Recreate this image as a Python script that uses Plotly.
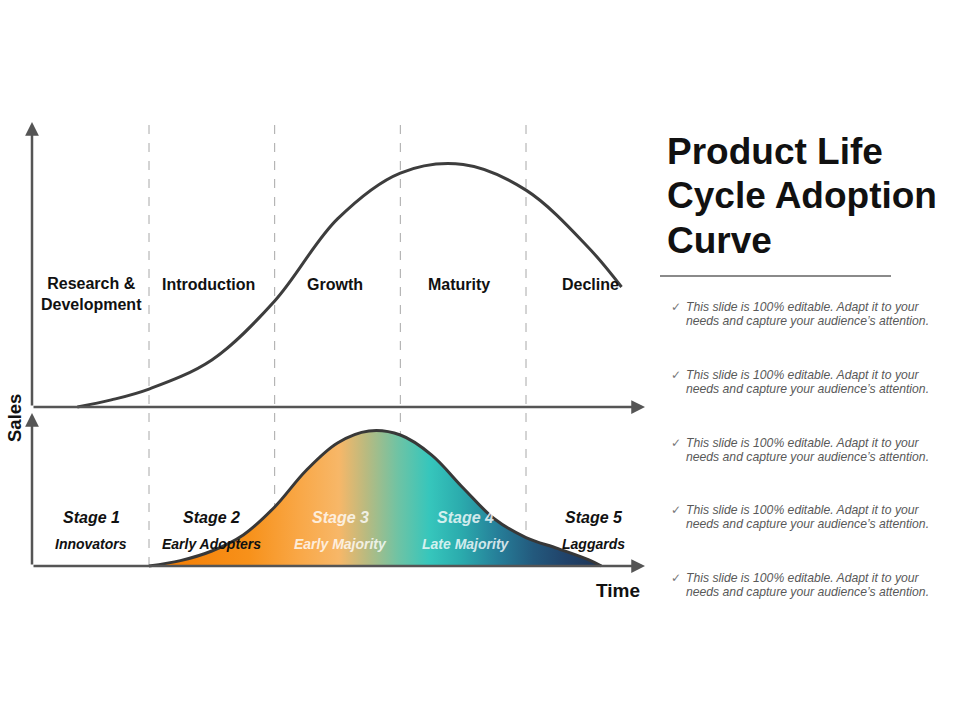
import plotly.graph_objects as go

# ---------------- data ----------------
phases = ["Research &<br>Development", "Introduction", "Growth", "Maturity", "Decline"]
phase_label_t = [0.54, 1.47, 2.48, 3.47, 4.51]

stage_names = ["Stage 1", "Stage 2", "Stage 3", "Stage 4", "Stage 5"]
adopter_groups = ["Innovators", "Early Adopters", "Early Majority", "Late Majority", "Laggards"]
stage_label_t = [0.54, 1.50, 2.52, 3.52, 4.54]
stage_boundaries = [1, 2, 3, 4]

# product life cycle (sales vs time)
sales_t = [0.43, 0.70, 1.00, 1.50, 2.00, 2.50, 3.00, 3.50, 4.00, 4.50, 4.76]
sales_v = [0.0, 2.5, 6.3, 16.5, 37.2, 66.0, 82.1, 85.1, 76.1, 55.8, 42.1]

# adoption bell curve
adopt_t = [1.00, 1.25, 1.50, 1.75, 2.00, 2.25, 2.50, 2.75, 3.00, 3.25, 3.50, 3.75,
           4.00, 4.25, 4.50, 4.60]
adopt_v = [0.0, 3.5, 9.8, 20.3, 38.6, 62.4, 80.4, 88.2, 85.6, 72.5, 51.0, 30.7,
           18.6, 11.5, 4.0, 0.0]

title_lines = ["Product Life", "Cycle Adoption", "Curve"]
bullet_text = ("This slide is 100% editable. Adapt it to your",
               "needs and capture your audience\u2019s attention.")
bullets = [bullet_text] * 5

# ---------------- layout calibration ----------------
W, H = 960, 720
PX0, PXK = 23.33, 125.67           # pixel = PX0 + PXK * t
T_AXIS0, T_AXIS1 = 0.069, 4.947    # axis extents in time units
Y1_ZERO, Y1_K = 407, 2.85          # top panel: pixel = Y1_ZERO - Y1_K * v
Y2_ZERO, Y2_K = 566, 1.53          # bottom panel

FONT = "Liberation Sans, Arial, DejaVu Sans, sans-serif"
AXC = "#555555"

fig = go.Figure()

fig.add_trace(go.Scatter(
    x=sales_t, y=sales_v, mode="lines", yaxis="y",
    line=dict(shape="spline", smoothing=1.0, color="#3d3d3d", width=3),
    hoverinfo="skip", showlegend=False))

fig.add_trace(go.Scatter(
    x=adopt_t, y=adopt_v, mode="lines", yaxis="y2",
    line=dict(shape="spline", smoothing=1.0, color="#383838", width=3),
    fill="tozeroy",
    fillgradient=dict(type="horizontal", colorscale=[
        [0.0, "#F47A00"], [0.22, "#F7911A"], [0.34, "#F9A94A"], [0.42, "#F7B768"],
        [0.48, "#B9BA80"], [0.55, "#6FC3A4"], [0.62, "#36C6BC"], [0.69, "#2BABAD"],
        [0.77, "#267F99"], [0.85, "#23597D"], [0.92, "#21436A"], [1.0, "#1E3556"]]),
    hoverinfo="skip", showlegend=False))

annotations = []
shapes = []


def arrow(x0, y0, x1, y1, yref):
    annotations.append(dict(x=x1, y=y1, ax=x0, ay=y0, xref="x", yref=yref,
                            axref="x", ayref=yref, text="", showarrow=True,
                            arrowhead=2, arrowsize=1.1, arrowwidth=2.5, arrowcolor=AXC,
                            standoff=0, startstandoff=0))


def label(x, y, text, size, color="#111111", xref="paper", xanchor="center", **kw):
    annotations.append(dict(x=x, y=y, xref=xref, yref="paper", text=text, showarrow=False,
                            xanchor=xanchor, yanchor="middle",
                            font=dict(family=kw.pop("family", FONT), size=size, color=color), **kw))


# axes with arrows
arrow(T_AXIS0, 0, T_AXIS1, 0, "y")
arrow(T_AXIS0, 0, T_AXIS0, 100, "y")
arrow(T_AXIS0, 0, T_AXIS1, 0, "y2")
arrow(T_AXIS0, 0, T_AXIS0, 100, "y2")

# dashed stage boundaries
for b in stage_boundaries:
    shapes.append(dict(type="line", xref="x", yref="paper", x0=b, x1=b,
                       y0=1 - 566 / H, y1=1 - 123 / H,
                       line=dict(color="#a8a8a8", width=1, dash="dash"), layer="below"))

# phase labels
for name, t in zip(phases, phase_label_t):
    label(t, 1 - (294 if "<br>" in name else 285) / H, "<b>%s</b>" % name, 16, xref="x")

# stage labels
for i, (s, g, t) in enumerate(zip(stage_names, adopter_groups, stage_label_t)):
    col = "rgba(255,255,255,0.8)" if i in (2, 3) else "#111111"
    label(t, 1 - 517 / H, "<b><i>%s</i></b>" % s, 16, col, xref="x")
    label(t, 1 - 544 / H, "<b><i>%s</i></b>" % g, 14, col, xref="x")

# axis titles
label(14 / W, 1 - 418 / H, "<b>Sales</b>", 18.5, textangle=-90)
label(618 / W, 1 - 590 / H, "<b>Time</b>", 19)

# title
for i, line in enumerate(title_lines):
    label(665 / W, 1 - (151 + 45 * i) / H, "<b>%s</b>" % line, 37, xanchor="left")
shapes.append(dict(type="line", xref="paper", yref="paper", x0=660 / W, x1=891 / W,
                   y0=1 - 276 / H, y1=1 - 276 / H, line=dict(color="#8a8a8a", width=2)))

# bullets
for i, (l1, l2) in enumerate(bullets):
    yc = 307 + 67.8 * i
    label(676 / W, 1 - yc / H, "\u2713", 12, "#777777", family="DejaVu Sans")
    for j, ln in enumerate((l1, l2)):
        label(684 / W, 1 - (yc + 14 * j) / H, "<i>%s</i>" % ln, 12.2, "#595959", xanchor="left")

fig.update_layout(
    width=W, height=H, margin=dict(l=0, r=0, t=0, b=0),
    paper_bgcolor="white", plot_bgcolor="white",
    xaxis=dict(domain=[0, 1], range=[(0 - PX0) / PXK, (W - PX0) / PXK], visible=False, fixedrange=True),
    yaxis=dict(domain=[0, 1], range=[(Y1_ZERO - H) / Y1_K, Y1_ZERO / Y1_K], visible=False, fixedrange=True),
    yaxis2=dict(domain=[0, 1], range=[(Y2_ZERO - H) / Y2_K, Y2_ZERO / Y2_K], visible=False,
                overlaying="y", fixedrange=True),
    annotations=annotations, shapes=shapes, showlegend=False)

fig.write_html("out.html", config={"displayModeBar": False},
               post_script="document.body.style.margin='0px';")
